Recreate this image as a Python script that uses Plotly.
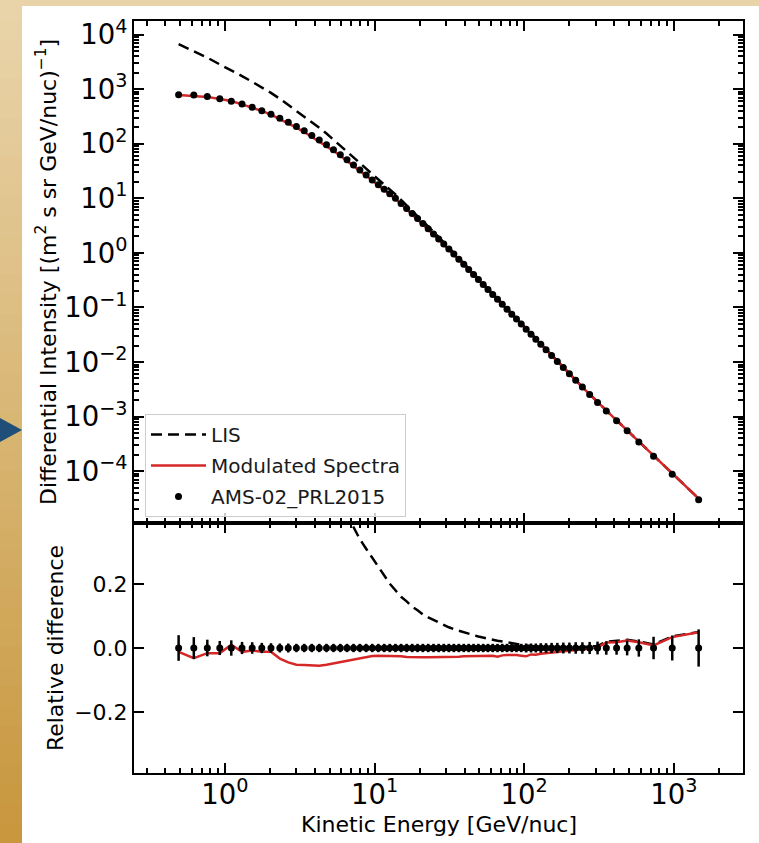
import plotly.graph_objects as go

# ---------------- data ----------------
energy = [0.490, 0.619, 0.762, 0.923, 1.102, 1.300, 1.520, 1.762, 2.030, 2.326,
          2.648, 3.001, 3.385, 3.805, 4.266, 4.768, 5.311, 5.900, 6.539, 7.228,
          7.973, 8.778, 9.644, 10.59, 11.59, 12.63, 13.78, 15.03, 16.37, 17.82,
          19.37, 21.02, 22.81, 24.76, 26.81, 29.00, 31.35, 33.85, 36.55, 39.44,
          42.54, 45.84, 49.38, 53.18, 57.23, 61.58, 66.27, 71.32, 76.72, 82.51,
          88.76, 95.50, 103.0, 111.0, 119.5, 129.0, 139.9, 152.4, 166.4, 182.4,
          200.3, 220.8, 244.7, 273.6, 309.0, 353.6, 414.1, 487.1, 583.1, 731.6,
          975.1, 1464.1]

flux = [790, 780, 735, 670, 600, 533, 468, 405, 347, 295,
        248, 208, 173, 142, 117, 95.5, 78.0, 63.0, 51.0, 41.0,
        33.0, 26.8, 21.7, 17.8, 14.7, 12.16, 10.0, 8.08, 6.53, 5.26,
        4.25, 3.44, 2.775, 2.231, 1.802, 1.457, 1.176, 0.951, 0.766, 0.618,
        0.498, 0.4026, 0.3253, 0.2637, 0.2139, 0.1736, 0.1408, 0.1142, 0.0927, 0.0753,
        0.0612, 0.0497, 0.0400, 0.0323, 0.0262, 0.0211, 0.01672, 0.01311, 0.01025, 0.00793,
        0.00609, 0.00464, 0.00347, 0.00255, 0.00182, 0.001272, 0.000839, 0.000548, 0.000342, 0.000187,
        8.8e-5, 3.0e-5]

rel_err = [0.040, 0.034, 0.026, 0.022, 0.024, 0.019, 0.018, 0.016, 0.015, 0.014,
           0.014, 0.013, 0.013, 0.013, 0.013, 0.013, 0.013, 0.013, 0.013, 0.013,
           0.013, 0.013, 0.013, 0.013, 0.013, 0.013, 0.013, 0.013, 0.013, 0.013,
           0.013, 0.013, 0.013, 0.013, 0.013, 0.013, 0.013, 0.013, 0.013, 0.013,
           0.013, 0.013, 0.013, 0.013, 0.013, 0.013, 0.013, 0.013, 0.013, 0.013,
           0.013, 0.013, 0.014, 0.014, 0.014, 0.015, 0.015, 0.016, 0.016, 0.017,
           0.017, 0.018, 0.018, 0.019, 0.020, 0.021, 0.021, 0.023, 0.027, 0.035,
           0.039, 0.058]

model_rel = [-0.012, -0.032, -0.016, -0.016, 0.010, -0.012, -0.008, -0.012, -0.012, -0.033,
             -0.045, -0.052, -0.053, -0.054, -0.055, -0.052, -0.048, -0.044, -0.040, -0.035,
             -0.031, -0.028, -0.025, -0.024, -0.024, -0.024, -0.025, -0.026, -0.028, -0.029,
             -0.029, -0.029, -0.029, -0.029, -0.029, -0.028, -0.028, -0.027, -0.027, -0.026,
             -0.026, -0.026, -0.025, -0.025, -0.025, -0.024, -0.027, -0.023, -0.022, -0.021,
             -0.022, -0.024, -0.026, -0.020, -0.021, -0.018, -0.016, -0.014, -0.012, -0.009,
             -0.007, -0.005, -0.004, -0.002, 0.002, 0.017, 0.018, 0.023, 0.018, 0.008,
             0.034, 0.049]

lis = [6670, 4966, 3784, 2851, 2234, 1742, 1368, 1084, 855, 667,
       517, 402, 318, 250, 197, 154, 119.4, 92.6, 72.2, 56.4,
       44.2, 35.1, 27.8, 22.3, 18.0, 14.6, 11.8, 9.37, 7.48, 5.94,
       4.75, 3.80, 3.04, 2.425, 1.944, 1.562, 1.252, 1.007, 0.807, 0.648,
       0.520, 0.4187, 0.3370, 0.2721, 0.2201, 0.1781, 0.1440, 0.1165, 0.0944, 0.0764,
       0.0619, 0.0502, 0.0403, 0.0325, 0.0263, 0.02114, 0.01672, 0.01308, 0.01025, 0.00793,
       0.006096, 0.004649, 0.00348, 0.00256, 0.001831, 0.001297, 0.000857, 0.000562, 0.000349, 0.000189,
       9.12e-5, 3.15e-5]

# ---------------- derived series ----------------
flux_err = [f * e for f, e in zip(flux, rel_err)]
model = [f * (1 + r) for f, r in zip(flux, model_rel)]
lis_rel = [l / f - 1 for l, f in zip(lis, flux)]
zeros = [0.0] * len(energy)

# ---------------- layout geometry ----------------
W, H = 759, 843
ML, MR, MT, MB = 134, 16, 21, 70
PW, PH = W - ML - MR, H - MT - MB
split = 250 / PH

def px(xp):
    return (xp - ML) / PW

def py(yp):
    return (H - MB - yp) / PH

FONT = "DejaVu Sans"
FS = 22
RED = "#d62728"
DASH = "11px,6px"

fig = go.Figure()
fig.add_trace(go.Scatter(x=energy, y=lis, mode="lines", name="LIS",
                         line=dict(color="black", width=2.5, dash=DASH),
                         xaxis="x", yaxis="y", legendgroup="a"))
fig.add_trace(go.Scatter(x=energy, y=model, mode="lines", name="Modulated Spectra",
                         line=dict(color=RED, width=2.5),
                         xaxis="x", yaxis="y", legendgroup="b"))
fig.add_trace(go.Scatter(x=energy, y=flux, mode="markers", name="AMS-02_PRL2015",
                         marker=dict(color="black", size=7),
                         error_y=dict(type="data", array=flux_err, color="black", thickness=2, width=0),
                         xaxis="x", yaxis="y", legendgroup="c"))

fig.add_trace(go.Scatter(x=energy, y=lis_rel, mode="lines", showlegend=False,
                         line=dict(color="black", width=2.5, dash=DASH),
                         xaxis="x2", yaxis="y2"))
fig.add_trace(go.Scatter(x=energy, y=model_rel, mode="lines", showlegend=False,
                         line=dict(color=RED, width=2.5),
                         xaxis="x2", yaxis="y2"))
fig.add_trace(go.Scatter(x=energy, y=zeros, mode="markers", showlegend=False,
                         marker=dict(color="black", size=7),
                         error_y=dict(type="data", array=rel_err, color="black", thickness=2.5, width=0),
                         xaxis="x2", yaxis="y2"))

common = dict(showline=True, linecolor="black", linewidth=2, mirror="allticks",
              ticks="inside", ticklen=10, tickwidth=2, tickcolor="black",
              showgrid=False, zeroline=False,
              tickfont=dict(family=FONT, size=FS, color="black"))
minor = dict(ticks="inside", ticklen=5, tickwidth=1.5, tickcolor="black", dtick="D1", showgrid=False)
alias = {"1": "10<sup>0</sup>", "10": "10<sup>1</sup>"}
xrange = [-0.608, 3.462]
tfont = dict(family=FONT, size=FS, color="black")

fig.update_layout(
    width=W, height=H,
    margin=dict(l=ML, r=MR, t=MT, b=MB, pad=0),
    paper_bgcolor="white", plot_bgcolor="white",
    font=dict(family=FONT, size=FS, color="black"),
    xaxis=dict(common, type="log", range=xrange, dtick=1, tick0=0, minor=minor,
               exponentformat="power", labelalias=alias, domain=[0, 1], anchor="y",
               showticklabels=False, matches="x2"),
    xaxis2=dict(common, type="log", range=xrange, dtick=1, tick0=0, minor=minor,
                exponentformat="power", labelalias=alias, domain=[0, 1], anchor="y2",
                ticklabelstandoff=-3),
    yaxis=dict(common, type="log", range=[-4.95, 4.25], dtick=1, tick0=0, minor=minor,
               exponentformat="power", labelalias=alias, domain=[split, 1], anchor="x",
               title=dict(text="Differential Intensity [(m<sup>2</sup> s sr GeV/nuc)<sup>\u22121</sup>]",
                          standoff=2, font=tfont)),
    yaxis2=dict(common, range=[-0.39, 0.39], dtick=0.2, tick0=0, tickformat=".1f",
                domain=[0, split], anchor="x2",
                title=dict(text="Relative difference", standoff=4, font=tfont)),
    legend=dict(x=px(145), y=py(414), xanchor="left", yanchor="top",
                bgcolor="rgba(255,255,255,0.8)", bordercolor="#cccccc", borderwidth=1,
                font=dict(family=FONT, size=20, color="#1a1a1a"),
                tracegroupgap=2, traceorder="grouped", itemwidth=55),
    showlegend=True,
    annotations=[dict(text="Kinetic Energy [GeV/nuc]", xref="paper", yref="paper",
                      x=0.5, y=py(824), xanchor="center", yanchor="middle",
                      showarrow=False, font=tfont)],
)

# ---------------- page frame decoration ----------------
shapes = []
shapes.append(dict(type="rect", xref="paper", yref="paper", x0=px(0), x1=px(W), y0=py(6), y1=py(0),
                   fillcolor="rgb(233,212,170)", line=dict(width=0), layer="above"))
n = 43
top_c = (233, 212, 170)
bot_c = (200, 151, 62)
for i in range(n):
    t = i / (n - 1)
    c = tuple(int(round(a + (b - a) * t)) for a, b in zip(top_c, bot_c))
    y0 = H * i / n
    y1 = H * (i + 1) / n + 1
    shapes.append(dict(type="rect", xref="paper", yref="paper", x0=px(0), x1=px(22),
                       y0=py(min(y1, H)), y1=py(y0), fillcolor="rgb(%d,%d,%d)" % c,
                       line=dict(width=0), layer="above"))
shapes.append(dict(type="path", xref="paper", yref="paper",
                   path="M %f,%f L %f,%f L %f,%f Z" % (px(0), py(418), px(22), py(430), px(0), py(442)),
                   fillcolor="rgb(31,78,121)", line=dict(width=0), layer="above"))
fig.update_layout(shapes=shapes)

fig.write_html("out.html", config={"displayModeBar": False},
               post_script="document.body.style.margin='0px';")
